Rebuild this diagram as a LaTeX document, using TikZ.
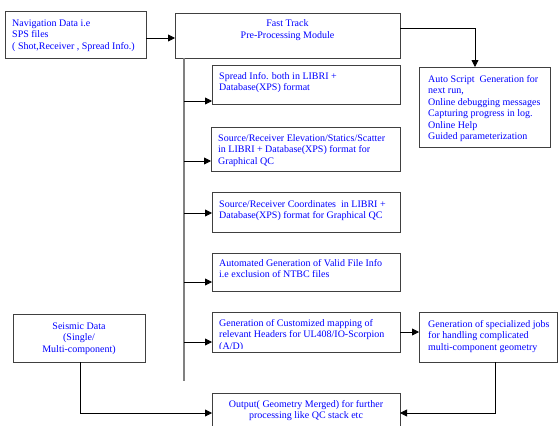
\documentclass[tikz,border=0pt]{standalone}
\usepackage{fontspec}
\setmainfont{Liberation Serif}
\usetikzlibrary{arrows.meta}
\newcommand\tl[1]{\begin{tabular}[t]{@{}l@{}}#1\end{tabular}}
\newcommand\tc[1]{\begin{tabular}[t]{@{}c@{}}#1\end{tabular}}
\begin{document}
\begin{tikzpicture}[x=1pt,y=-1pt,
  box/.style={draw=black!75,line width=0.8pt,fill=white,inner sep=0pt,outer sep=0pt,anchor=north west},
  txt/.style={text=blue,font=\fontsize{10}{11.5}\selectfont,inner sep=0pt,anchor=base west},
  ctxt/.style={txt,anchor=base},
  arr/.style={draw=black,line width=0.8pt,-{Triangle[length=7pt,width=7pt]}},
  ln/.style={draw=black,line width=0.8pt},
  trunk/.style={draw=black!50,line width=1.4pt}]
\useasboundingbox (0,0) rectangle (558,426);
\newcommand\mybox[5]{\node[box,minimum width={(#4-#2)*1pt},minimum height={(#5-#3)*1pt}] (#1) at (#2,#3) {};}
% boxes
\mybox{nav}{5}{11}{146}{58}
\mybox{fast}{175}{13}{400}{58}
\mybox{spread}{212}{65}{400}{104}
\mybox{elev}{211}{127}{400}{171}
\mybox{coord}{212}{192}{400}{232}
\mybox{valid}{212}{253}{400}{291}
\mybox{custom}{212}{312}{400}{352}
\mybox{output}{212}{393}{400}{432}
\mybox{autos}{419}{67}{550}{147}
\mybox{spec}{419}{312}{557}{362}
\mybox{seis}{13}{314}{145}{362}
% texts
\node[txt] (navT) at (12,26) {\tl{Navigation Data i.e\\SPS files\\( Shot,Receiver , Spread Info.)}};
\node[ctxt,font=\fontsize{10}{12.6}\selectfont] (fastT) at (287.5,26) {\tc{Fast Track\\Pre-Processing Module}};
\node[txt] (spreadT) at (219,79) {\tl{Spread Info. both in LIBRI +\\Database(XPS) format}};
\node[txt] (elevT) at (218,141) {\tl{Source/Receiver Elevation/Statics/Scatter\\in LIBRI + Database(XPS) format for\\Graphical QC}};
\node[txt] (coordT) at (219,207) {\tl{Source/Receiver Coordinates\ \ in LIBRI +\\Database(XPS) format for Graphical QC}};
\node[txt] (validT) at (219,266) {\tl{Automated Generation of Valid File Info\\i.e exclusion of NTBC files}};
\begin{scope}
\clip (custom.north west) rectangle (399,348);
\node[txt] (customT) at (219,326) {\tl{Generation of Customized mapping of\\relevant Headers for UL408/IO-Scorpion\\(A/D)}};
\end{scope}
\node[ctxt] (outputT) at (306,407) {\tc{Output( Geometry Merged) for further\\processing like QC stack etc}};
\node[txt] (autosT) at (428,82) {\tl{Auto Script\ \ Generation for\\next run,\\Online debugging messages\\Capturing progress in log.\\Online Help\\Guided parameterization}};
\node[txt] (specT) at (428,327) {\tl{Generation of specialized jobs\\for handling complicated\\multi-component geometry}};
\node[ctxt] (seisT) at (79,329) {\tc{Seismic Data\\(Single/\\Multi-component)}};
% connectors
\coordinate (a) at (160,38);
\draw[arr] (nav.east |- a) -- (fast.west |- a);
\coordinate (c) at (475,28);
\draw[arr] (fast.east |- c) -| (autos.north -| c);
\coordinate (t0) at (184,58);
\coordinate (t1) at (184,381);
\draw[trunk] (t0) -- (t1);
\coordinate (b1) at (184,101);
\coordinate (b2) at (184,161);
\coordinate (b3) at (184,213);
\coordinate (b4) at (184,282);
\coordinate (b5) at (184,342);
\draw[arr] (b1) -- (spread.west |- b1);
\draw[arr] (b2) -- (elev.west |- b2);
\draw[arr] (b3) -- (coord.west |- b3);
\draw[arr] (b4) -- (valid.west |- b4);
\draw[arr] (b5) -- (custom.west |- b5);
\coordinate (d) at (410,332);
\draw[arr] (custom.east |- d) -- (spec.west |- d);
\coordinate (e) at (495,413);
\draw[arr] (spec.south -| e) |- (output.east |- e);
\coordinate (f) at (80,413);
\draw[arr] (seis.south -| f) |- (output.west |- f);
\end{tikzpicture}
\end{document}
